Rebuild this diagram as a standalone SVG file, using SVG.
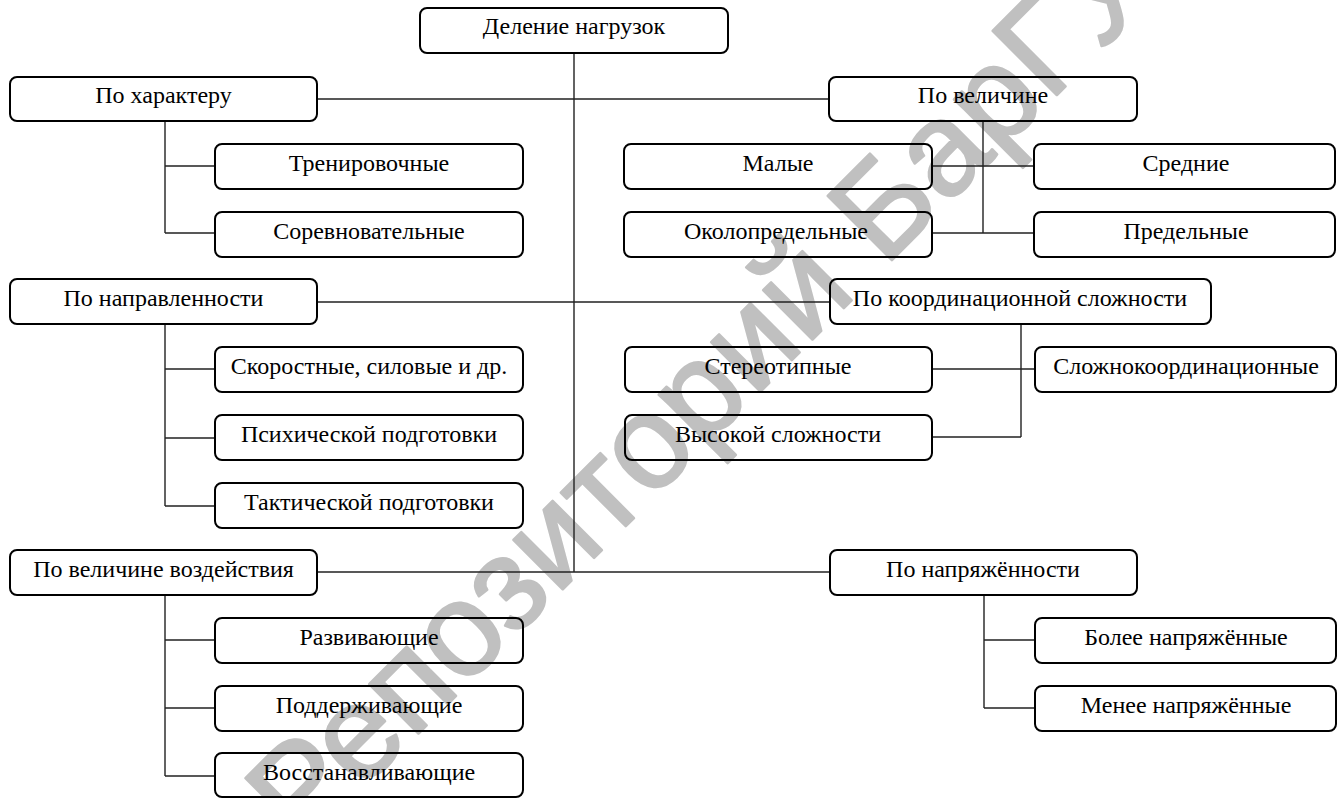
<svg xmlns="http://www.w3.org/2000/svg" width="1337" height="798" viewBox="0 0 1337 798">
<style>
.box{fill:none;stroke:#000;stroke-width:2}
.lbl{font-family:"Liberation Serif","Times New Roman",serif;font-size:24px;fill:#000;text-anchor:middle}
.con{fill:none;stroke:#222;stroke-width:1.4}
.wm{font-family:"Liberation Sans",Arial,sans-serif;font-size:132px;fill:#c0c0c0;stroke:#c0c0c0;stroke-width:2.5;stroke-linejoin:round}
</style>
<rect width="1337" height="798" fill="#fff"/>
<text class="wm" transform="translate(302,850) rotate(-45)">Репозиторий БарГУ</text>
<g id="connectors">
<path class="con" d="M574 53V572M317 99H829M317 302H830M317 572H830"/>
<path class="con" d="M165 121V233M165 166H215M165 233H215"/>
<path class="con" d="M983 121V233M932 166H1034M932 233H1034"/>
<path class="con" d="M165 324V506M165 369H215M165 438H215M165 506H215"/>
<path class="con" d="M1021 324V437M932 369H1035M932 437H1021"/>
<path class="con" d="M165 595V776M165 640H215M165 708H215M165 776H215"/>
<path class="con" d="M984 595V708M984 640H1035M984 708H1035"/>
</g>
<g id="root"><rect class="box" x="420" y="8" width="308" height="45" rx="7"/><text class="lbl" x="574" y="34">Деление нагрузок</text></g>
<g id="n-harakter"><rect class="box" x="10" y="77" width="307" height="44" rx="7"/><text class="lbl" x="163.5" y="103">По характеру</text></g>
<g id="n-velichina"><rect class="box" x="829" y="77" width="308" height="44" rx="7"/><text class="lbl" x="983" y="103">По величине</text></g>
<g id="n-trenir"><rect class="box" x="215" y="144" width="308" height="45" rx="7"/><text class="lbl" x="369" y="171">Тренировочные</text></g>
<g id="n-sorevn"><rect class="box" x="215" y="212" width="308" height="45" rx="7"/><text class="lbl" x="369" y="239">Соревновательные</text></g>
<g id="n-malye"><rect class="box" x="624" y="144" width="308" height="45" rx="7"/><text class="lbl" x="778" y="171">Малые</text></g>
<g id="n-okolopred"><rect class="box" x="624" y="212" width="308" height="45" rx="7"/><text class="lbl" x="776" y="239">Околопредельные</text></g>
<g id="n-srednie"><rect class="box" x="1034" y="144" width="301" height="45" rx="7"/><text class="lbl" x="1186" y="171">Средние</text></g>
<g id="n-predel"><rect class="box" x="1034" y="212" width="301" height="45" rx="7"/><text class="lbl" x="1186" y="239">Предельные</text></g>
<g id="n-napravl"><rect class="box" x="10" y="279" width="307" height="45" rx="7"/><text class="lbl" x="163.5" y="306">По направленности</text></g>
<g id="n-koord"><rect class="box" x="830" y="279" width="381" height="45" rx="7"/><text class="lbl" x="1020" y="306">По координационной сложности</text></g>
<g id="n-skor"><rect class="box" x="215" y="347" width="308" height="45" rx="7"/><text class="lbl" x="369" y="374">Скоростные, силовые и др.</text></g>
<g id="n-psih"><rect class="box" x="215" y="415" width="308" height="45" rx="7"/><text class="lbl" x="369" y="442">Психической подготовки</text></g>
<g id="n-takt"><rect class="box" x="215" y="483" width="308" height="45" rx="7"/><text class="lbl" x="369" y="510">Тактической подготовки</text></g>
<g id="n-stereo"><rect class="box" x="625" y="347" width="307" height="45" rx="7"/><text class="lbl" x="778" y="374">Стереотипные</text></g>
<g id="n-vysok"><rect class="box" x="625" y="415" width="307" height="45" rx="7"/><text class="lbl" x="778" y="442">Высокой сложности</text></g>
<g id="n-slozhn"><rect class="box" x="1035" y="347" width="301" height="45" rx="7"/><text class="lbl" x="1186" y="374">Сложнокоординационные</text></g>
<g id="n-vozd"><rect class="box" x="10" y="550" width="307" height="45" rx="7"/><text class="lbl" x="163.5" y="577">По величине воздействия</text></g>
<g id="n-napr"><rect class="box" x="830" y="550" width="307" height="45" rx="7"/><text class="lbl" x="983" y="577">По напряжённости</text></g>
<g id="n-razv"><rect class="box" x="215" y="618" width="308" height="45" rx="7"/><text class="lbl" x="369" y="645">Развивающие</text></g>
<g id="n-podd"><rect class="box" x="215" y="686" width="308" height="45" rx="7"/><text class="lbl" x="369" y="713">Поддерживающие</text></g>
<g id="n-vosst"><rect class="box" x="215" y="753" width="308" height="44" rx="7"/><text class="lbl" x="369" y="780">Восстанавливающие</text></g>
<g id="n-bolee"><rect class="box" x="1035" y="618" width="301" height="45" rx="7"/><text class="lbl" x="1186" y="645">Более напряжённые</text></g>
<g id="n-menee"><rect class="box" x="1035" y="686" width="301" height="45" rx="7"/><text class="lbl" x="1186" y="713">Менее напряжённые</text></g>
</svg>
